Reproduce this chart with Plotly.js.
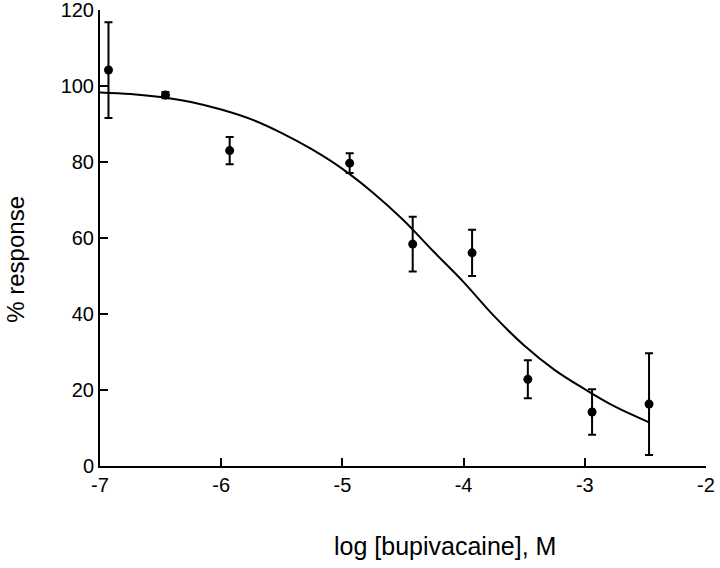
<!DOCTYPE html>
<html>
<head>
<meta charset="utf-8">
<script src="https://cdn.plot.ly/plotly-3.0.1.min.js"></script>
<style>
  body { margin: 0; background: #fff; }
  #plot { width: 720px; height: 568px; }
</style>
</head>
<body>
<div id="plot"></div>
<script>
// measured points (mean +/- error)
var logConc = [-6.93, -6.46, -5.93, -4.94, -4.42, -3.93, -3.47, -2.94, -2.47];
var response = [104.2, 97.6, 83.0, 79.7, 58.4, 56.1, 22.8, 14.2, 16.3];
var errResp = [12.6, 0.8, 3.6, 2.6, 7.2, 6.1, 5.0, 6.0, 13.4];

// fitted curve
var fitX = [-7, -6.75, -6.5, -6.25, -6, -5.75, -5.5, -5.25, -5, -4.75, -4.5, -4.25, -4, -3.75, -3.5, -3.25, -3, -2.75, -2.47];
var fitY = [98.3, 97.9, 97.1, 95.8, 93.8, 91.2, 87.6, 83.3, 78.2, 72.0, 64.8, 56.5, 48.4, 39.5, 31.7, 25.3, 20.2, 15.6, 11.5];

var xTicks = [-7, -6, -5, -4, -3, -2];
var yTicks = [0, 20, 40, 60, 80, 100, 120];

var fit = {
  x: fitX,
  y: fitY,
  mode: 'lines',
  line: { color: '#000', width: 2, shape: 'spline' },
  hoverinfo: 'skip'
};

var pts = {
  x: logConc,
  y: response,
  mode: 'markers',
  marker: { color: '#000', size: 9 },
  error_y: { type: 'data', array: errResp, visible: true, color: '#000', thickness: 2, width: 4 }
};

var layout = {
  width: 720,
  height: 568,
  margin: { l: 100, r: 14, t: 10, b: 102 },
  paper_bgcolor: '#fff',
  plot_bgcolor: '#fff',
  showlegend: false,
  font: { family: 'Liberation Sans, Arial, sans-serif', color: '#000', size: 20 },
  xaxis: {
    range: [-7, -2],
    tickvals: xTicks,
    ticktext: xTicks.map(String),
    ticks: 'inside',
    ticklen: 8,
    tickwidth: 2,
    tickcolor: '#000',
    showline: true,
    linecolor: '#000',
    linewidth: 2,
    showgrid: false,
    zeroline: false,
    ticklabeloverflow: 'allow'
  },
  yaxis: {
    range: [0, 120],
    tickvals: yTicks,
    ticktext: yTicks.map(String),
    ticks: 'inside',
    ticklen: 8,
    tickwidth: 2,
    tickcolor: '#000',
    showline: true,
    linecolor: '#000',
    linewidth: 2,
    showgrid: false,
    zeroline: false,
    ticklabeloverflow: 'allow'
  },
  annotations: [
    { text: 'log [bupivacaine], M', xref: 'paper', yref: 'paper', x: 0.569, y: -0.175,
      xanchor: 'center', yanchor: 'middle', showarrow: false, font: { size: 25 } },
    { text: '% response', xref: 'paper', yref: 'paper', x: -0.139, y: 0.454, textangle: -90,
      xanchor: 'center', yanchor: 'middle', showarrow: false, font: { size: 24 } }
  ]
};

Plotly.newPlot('plot', [fit, pts], layout, { displayModeBar: false });
</script>
</body>
</html>
